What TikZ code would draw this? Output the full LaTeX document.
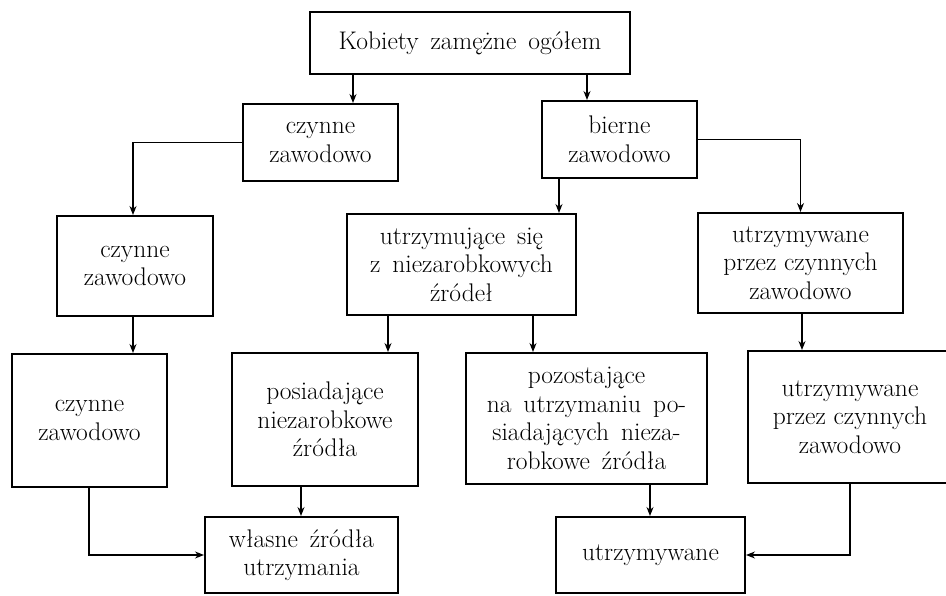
\documentclass[tikz,border=0pt]{standalone}
\usepackage{fontspec}
\usetikzlibrary{arrows.meta}
\begin{document}
\begin{tikzpicture}[x=1pt,y=-1pt,
  box/.style={draw, line width=2pt, rectangle, inner sep=0pt, align=center,
    font=\fontsize{25.5}{28.5}\selectfont},
  arr/.style={line width=1.3pt, -{Stealth[length=9pt,width=7pt]}}]
\useasboundingbox[fill=white] (0,0) rectangle (946,596);
\node[box, minimum width=320pt, minimum height=62pt] (top) at (470,43) {Kobiety\, zamężne\, ogółem};
\node[box, minimum width=155pt, minimum height=77pt] (cz1) at (320.5,142.5) {czynne\\zawodowo};
\node[box, minimum width=155pt, minimum height=77pt] (bi1) at (619.5,139.5) {bierne\\zawodowo};
\node[box, minimum width=156pt, minimum height=100pt] (cz2) at (135,266) {czynne\\zawodowo};
\node[box, minimum width=229pt, minimum height=101pt] (ut2) at (461.5,264.5) {utrzymujące\, się\\z\, niezarobkowych\\źródeł};
\node[box, minimum width=205pt, minimum height=100pt] (uw2) at (800.5,263) {utrzymywane\\przez czynnych\\zawodowo};
\node[box, minimum width=155pt, minimum height=133pt] (cz3) at (89.5,420.5) {czynne\\zawodowo};
\node[box, minimum width=186pt, minimum height=133pt] (po3) at (325,419.5) {posiadające\\niezarobkowe\\źródła};
\node[box, minimum width=241pt, minimum height=131pt] (pz3) at (586.5,418.5) {pozostające\\na\, utrzymaniu\, po-\\siadających\, nieza-\\robkowe\, źródła};
\node[box, minimum width=204pt, minimum height=132pt] (uw3) at (850,417) {utrzymywane\\przez czynnych\\zawodowo};
\node[box, minimum width=193pt, minimum height=76pt] (wl4) at (301.5,555) {własne\, źródła\\utrzymania};
\node[box, minimum width=189pt, minimum height=76pt] (ut4) at (650.5,555) {utrzymywane};
% connectors
\draw[arr] (353,0 |- top.south) -- (353,0 |- cz1.north);
\draw[arr] (587,0 |- top.south) -- (587,0 |- bi1.north);
\draw[arr] (cz1.west) -| (133,0 |- cz2.north);
\draw[arr] (bi1.east) -| (uw2.north);
\draw[arr] (559,0 |- bi1.south) -- (559,0 |- ut2.north);
\draw[arr] (133,0 |- cz2.south) -- (133,0 |- cz3.north);
\draw[arr] (388,0 |- ut2.south) -- (388,0 |- po3.north);
\draw[arr] (533,0 |- ut2.south) -- (533,0 |- pz3.north);
\draw[arr] (802,0 |- uw2.south) -- (802,0 |- uw3.north);
\draw[arr] (89,0 |- cz3.south) |- (wl4.west);
\draw[arr] (301,0 |- po3.south) -- (301,0 |- wl4.north);
\draw[arr] (650,0 |- pz3.south) -- (650,0 |- ut4.north);
\draw[arr] (uw3.south) |- (ut4.east);
\end{tikzpicture}
\end{document}
